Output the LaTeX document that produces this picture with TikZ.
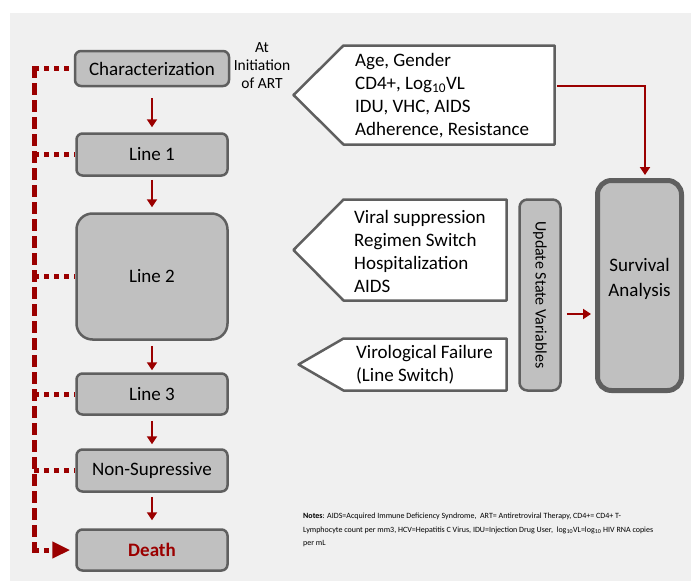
\documentclass[tikz,border=0pt]{standalone}
\usepackage{fontspec}
\setmainfont{Carlito}
\usetikzlibrary{arrows.meta}
\definecolor{bggray}{RGB}{240,240,240}
\definecolor{boxgray}{RGB}{95,95,95}
\definecolor{boxfill}{RGB}{192,192,192}
\definecolor{darkred}{RGB}{155,0,0}
\begin{document}
\begin{tikzpicture}[x=1pt,y=-1pt,
    state/.style={draw=boxgray,line width=2.5pt,fill=boxfill,rounded corners=6pt,
      minimum width=151pt,inner sep=0pt,font=\fontsize{19}{25}\selectfont},
    callout/.style={draw=boxgray,line width=2.5pt,fill=white,line join=round},
    calltext/.style={anchor=west,align=left,inner sep=0pt,font=\fontsize{19}{23}\selectfont},
    flow/.style={darkred,line width=2.5pt,-{Triangle[width=10pt,length=8pt]}},
    rail/.style={darkred,line width=5pt,dash pattern=on 12pt off 5pt},
    stub/.style={darkred,line width=5pt,dash pattern=on 5pt off 5pt}]
      \fill[bggray] (10,13) rectangle (691,581);
      \useasboundingbox (0,0) rectangle (691,581);
      \node[state,minimum width=154pt,minimum height=35pt] (char) at (152,68.5) {Characterization};
      \node[state,minimum height=42pt] (line1) at (152,154.5) {Line 1};
      \node[state,minimum height=126pt,rounded corners=16pt] (line2) at (152,276.5) {Line 2};
      \node[state,minimum height=41pt] (line3) at (152,394) {Line 3};
      \node[state,minimum height=42pt] (nonsup) at (152,470.5) {Non-Supressive};
      \node[state,minimum height=41pt,text=darkred,font=\fontsize{19}{25}\selectfont\bfseries] (death) at (152,550) {Death};
      \node[align=center,font=\fontsize{15.5}{18}\selectfont] (start) at (262,66) {At\\Initiation\\of ART};
      \begin{scope}[flow]
        \draw[shorten <=11pt,shorten >=5pt] (char) to (line1);
        \draw[shorten <=3pt,shorten >=5pt] (line1) to (line2);
        \draw[shorten <=5pt,shorten >=2pt] (line2) to (line3);
        \draw[shorten <=5pt,shorten >=4pt] (line3) to (nonsup);
        \draw[shorten <=4pt,shorten >=8pt] (nonsup) to (death);
      \end{scope}
      \coordinate (railtop) at (34,66);
      \coordinate (railbot) at (34,553);
      \draw[rail] (railtop) -- (railbot);
      \begin{scope}[stub]
        \draw (char.west -| railtop) -- (char.west);
        \draw (line1.west -| railtop) -- (line1.west);
        \draw (line2.west -| railtop) -- (line2.west);
        \draw (line3.west -| railtop) -- (line3.west);
        \draw (nonsup.west -| railtop) -- (nonsup.west);
        \draw[-{Triangle[width=16pt,length=18pt]},shorten >=5pt] (death.west -| railbot) -- (death.west);
      \end{scope}
      \draw[callout] (343.5,45.5) -- (554.5,45.5) -- (554.5,144.5) -- (343.5,144.5) -- (293.5,95) -- cycle;
      \node[calltext] (covar) at (355,96) {Age, Gender\\CD4+, Log\textsubscript{10}VL\\IDU, VHC, AIDS\\Adherence, Resistance};
      \draw[callout] (343.5,199.5) -- (506.5,199.5) -- (506.5,300.5) -- (343.5,300.5) -- (293.5,250) -- cycle;
      \node[calltext] (events) at (354,251.5) {Viral suppression\\Regimen Switch\\Hospitalization\\AIDS};
      \draw[callout] (343.5,338.5) -- (506.5,338.5) -- (506.5,390.5) -- (343.5,390.5) -- (298.5,364.5) -- cycle;
      \node[calltext] (failure) at (356,365) {Virological Failure\\(Line Switch)};
      \node[state,rotate=-90,minimum width=191pt,minimum height=41pt,rounded corners=8pt,
        font=\fontsize{16}{18}\selectfont] (update) at (540,295) {Update State Variables};
      \node[state,line width=5pt,minimum width=84pt,minimum height=210pt,rounded corners=14pt,
        align=center] (surv) at (639.5,285.5) {Survival\\Analysis\\[-8pt]};
      \coordinate (covarout) at (557,86);
      \draw[flow,shorten >=3pt] (covarout) -| ([xshift=5.5pt]surv.north);
      \draw[flow,shorten <=5pt,shorten >=4pt] ([yshift=-19pt]update.north) -- ([yshift=-19pt]update.north -| surv.west);
      \node[anchor=north west,align=left,inner sep=0pt,font=\fontsize{8}{13.5}\selectfont] (notes) at (303,513)
        {\textbf{Notes}: AIDS=Acquired Immune Deficiency Syndrome,\ \ ART= Antiretroviral Therapy, CD4+= CD4+ T-\\
        Lymphocyte count per mm3, HCV=Hepatitis C Virus, IDU=Injection Drug User,\ \ log\textsubscript{10}VL=log\textsubscript{10} HIV RNA copies\\
        per mL};
    \end{tikzpicture}
\end{document}
